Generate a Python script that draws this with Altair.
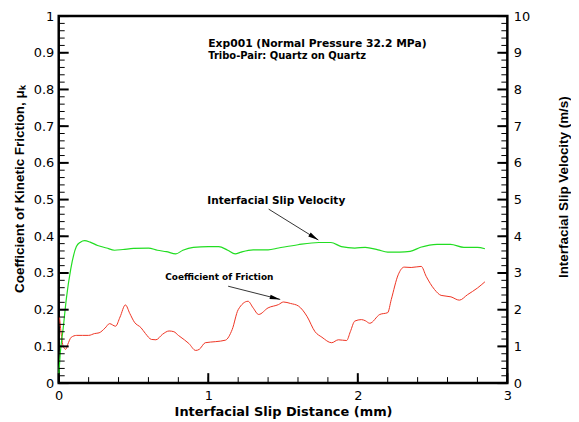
import math
import altair as alt
import pandas as pd

# ---- data ----
fric_d = [0.005, 0.015, 0.03, 0.047, 0.06, 0.084, 0.12, 0.16, 0.2, 0.24,
          0.27, 0.31, 0.34, 0.38, 0.41, 0.446, 0.475, 0.506, 0.55, 0.58,
          0.62, 0.65, 0.694, 0.738, 0.77, 0.8, 0.84, 0.87, 0.916, 0.94,
          0.98, 1.05, 1.115, 1.16, 1.2, 1.266, 1.3, 1.337, 1.40, 1.47,
          1.503, 1.55, 1.603, 1.66, 1.714, 1.76, 1.825, 1.87, 1.925, 1.95,
          1.98, 2.024, 2.05, 2.08, 2.147, 2.2, 2.224, 2.27, 2.31, 2.357,
          2.424, 2.457, 2.513, 2.557, 2.623, 2.679, 2.734, 2.8, 2.85]
fric_mu = [0.18, 0.14, 0.10, 0.092, 0.105, 0.125, 0.13, 0.13, 0.13, 0.135,
           0.137, 0.15, 0.162, 0.155, 0.18, 0.213, 0.19, 0.166, 0.151, 0.135,
           0.119, 0.118, 0.133, 0.142, 0.14, 0.13, 0.118, 0.108, 0.089, 0.092,
           0.11, 0.113, 0.117, 0.146, 0.2, 0.223, 0.205, 0.187, 0.205, 0.214,
           0.221, 0.217, 0.21, 0.182, 0.14, 0.125, 0.110, 0.118, 0.116, 0.14,
           0.169, 0.173, 0.17, 0.163, 0.187, 0.192, 0.228, 0.295, 0.316, 0.315,
           0.318, 0.291, 0.255, 0.239, 0.235, 0.226, 0.241, 0.259, 0.276]

vel_d = [0, 0.01, 0.03, 0.051, 0.08, 0.118, 0.145, 0.173, 0.21, 0.26,
         0.32, 0.373, 0.43, 0.5, 0.6, 0.66, 0.72, 0.783, 0.83, 0.9,
         1.0, 1.07, 1.13, 1.18, 1.22, 1.3, 1.4, 1.47, 1.6, 1.74,
         1.82, 1.89, 1.98, 2.05, 2.135, 2.2, 2.28, 2.35, 2.42, 2.53,
         2.62, 2.71, 2.8, 2.85]
vel_v = [0.2, 0.8, 1.5, 2.3, 3.1, 3.72, 3.84, 3.88, 3.84, 3.75,
         3.68, 3.62, 3.64, 3.67, 3.68, 3.62, 3.58, 3.52, 3.62, 3.70,
         3.72, 3.72, 3.62, 3.52, 3.57, 3.63, 3.63, 3.68, 3.77, 3.83,
         3.83, 3.72, 3.68, 3.70, 3.63, 3.57, 3.57, 3.59, 3.70, 3.78,
         3.78, 3.70, 3.70, 3.66]

# tick values
x_major = [0, 1, 2, 3]
x_minor = [round(0.2 * i, 1) for i in range(16)]
y_major = [round(0.1 * i, 1) for i in range(11)]
y_minor = [round(0.02 * i, 2) for i in range(51)]
v_major = list(range(11))
v_minor = [round(0.2 * i, 1) for i in range(51)]

# annotations (data coordinates: distance, friction scale)
ann_text = ["Exp001 (Normal Pressure 32.2 MPa)", "Tribo-Pair: Quartz on Quartz",
            "Interfacial Slip Velocity", "Coefficient of Friction"]
ann_d = [1.0, 1.0, 0.993, 0.712]
ann_mu = [0.915, 0.884, 0.489, 0.282]

arr_d1 = [1.404, 1.133]
arr_mu1 = [0.474, 0.264]
arr_d2 = [1.736, 1.481]
arr_mu2 = [0.390, 0.228]

# ---- layout / style ----
W, H = 451, 369
MAJ, MIN = 10, 6
LBL_FONT = "DejaVu Sans"
VT_FONT = "Liberation Sans"

fric = pd.DataFrame({"d": fric_d, "mu": fric_mu})
vel = pd.DataFrame({"d": vel_d, "v": vel_v})

xs = alt.Scale(domain=[0, 3], nice=False, zero=False)
ys = alt.Scale(domain=[0, 1], nice=False, zero=False)
vs = alt.Scale(domain=[0, 10], nice=False, zero=False)

common = dict(grid=False, domain=False, ticks=False, labelColor="black",
              labelFont=LBL_FONT, labelFontSize=13, labelFlush=False,
              labelOverlap=False, titleColor="black")

x_ax = alt.Axis(orient="bottom", values=x_major, labelPadding=6, format="d",
                title="Interfacial Slip Distance (mm)", titleFont=LBL_FONT,
                titleFontSize=13, titleFontWeight="bold",
                titleBaseline="alphabetic", titleAlign="center",
                titleX=W / 2, titleY=33, **common)
y_ax = alt.Axis(orient="left", values=y_major, labelPadding=5, format="~g",
                title="Coefficient of Kinetic Friction, \u03bc\u2096",
                titleFont=VT_FONT, titleFontSize=13.5, titleFontWeight="bold",
                titleAngle=270, titleBaseline="middle", titleAlign="center",
                titleX=-39, titleY=173.5, **common)
v_ax = alt.Axis(orient="right", values=v_major, labelPadding=6, format="d",
                title="Interfacial Slip Velocity (m/s)",
                titleFont=VT_FONT, titleFontSize=13.5, titleFontWeight="bold",
                titleAngle=270, titleBaseline="middle", titleAlign="center",
                titleX=56, titleY=171.5, **common)

red = alt.Chart(fric).mark_line(color="#ee3322", strokeWidth=1,
                                interpolate="monotone").encode(
    x=alt.X("d:Q", scale=xs, axis=x_ax),
    y=alt.Y("mu:Q", scale=ys, axis=y_ax),
)
green = alt.Chart(vel).mark_line(color="#22dd22", strokeWidth=1.2,
                                 interpolate="monotone").encode(
    x=alt.X("d:Q", scale=xs, axis=None),
    y=alt.Y("v:Q", scale=vs, axis=v_ax),
)


# inward tick marks drawn through the scales
def yticks(values, scale, length, width, side):
    df = pd.DataFrame({"t": values})
    x0 = 0 if side == "left" else W
    x1 = length if side == "left" else W - length
    return alt.Chart(df).mark_rule(color="black", strokeWidth=width).encode(
        y=alt.Y("t:Q", scale=scale, axis=None),
        x=alt.value(x0), x2=alt.value(x1),
    )


def xticks(values, length, width):
    df = pd.DataFrame({"t": values})
    return alt.Chart(df).mark_rule(color="black", strokeWidth=width).encode(
        x=alt.X("t:Q", scale=xs, axis=None),
        y=alt.value(H), y2=alt.value(H - length),
    )


ticks = [
    yticks(y_minor, ys, MIN, 1, "left"), yticks(y_major, ys, MAJ, 2, "left"),
    yticks(v_minor, vs, MIN, 1, "right"), yticks(v_major, vs, MAJ, 2, "right"),
    xticks(x_minor, MIN, 1), xticks(x_major, MAJ, 2),
]


def text_layer(i, size):
    df = pd.DataFrame({"d": [ann_d[i]], "mu": [ann_mu[i]], "t": [ann_text[i]]})
    return alt.Chart(df).mark_text(align="left", baseline="alphabetic",
                                   font=LBL_FONT, fontWeight="bold",
                                   fontSize=size, color="black").encode(
        x=alt.X("d:Q", scale=xs, axis=None),
        y=alt.Y("mu:Q", scale=ys, axis=None),
        text="t:N",
    )


texts = [text_layer(0, 10.8), text_layer(1, 10.0), text_layer(2, 10.6),
         text_layer(3, 9)]

arr = pd.DataFrame({"d1": arr_d1, "mu1": arr_mu1, "d2": arr_d2, "mu2": arr_mu2})
arr["a"] = [math.degrees(math.atan2((a - b) * H, (d - c) * W / 3))
            for a, b, c, d in zip(arr_mu1, arr_mu2, arr_d1, arr_d2)]

arrows = alt.Chart(arr).mark_rule(color="black", strokeWidth=0.8).encode(
    x=alt.X("d1:Q", scale=xs, axis=None),
    y=alt.Y("mu1:Q", scale=ys, axis=None),
    x2="d2:Q",
    y2="mu2:Q",
)
heads = alt.Chart(arr).mark_point(shape="M0,0 L-1,-0.22 L-1,0.22 Z", filled=True,
                                  color="black", opacity=1, size=440,
                                  strokeWidth=0).encode(
    x=alt.X("d2:Q", scale=xs, axis=None),
    y=alt.Y("mu2:Q", scale=ys, axis=None),
    angle=alt.Angle("a:Q", scale=None),
)

chart = alt.layer(red, green, *ticks, *texts, arrows, heads).resolve_scale(
    x="independent", y="independent"
).properties(
    width=W, height=H,
    padding={"left": 51, "top": 7, "right": 64, "bottom": 38},
    autosize=alt.AutoSizeParams(type="none"),
    background="white",
).configure_view(stroke="black", strokeWidth=2.5)

chart.save("out.html", embed_options={"renderer": "svg", "actions": False})
